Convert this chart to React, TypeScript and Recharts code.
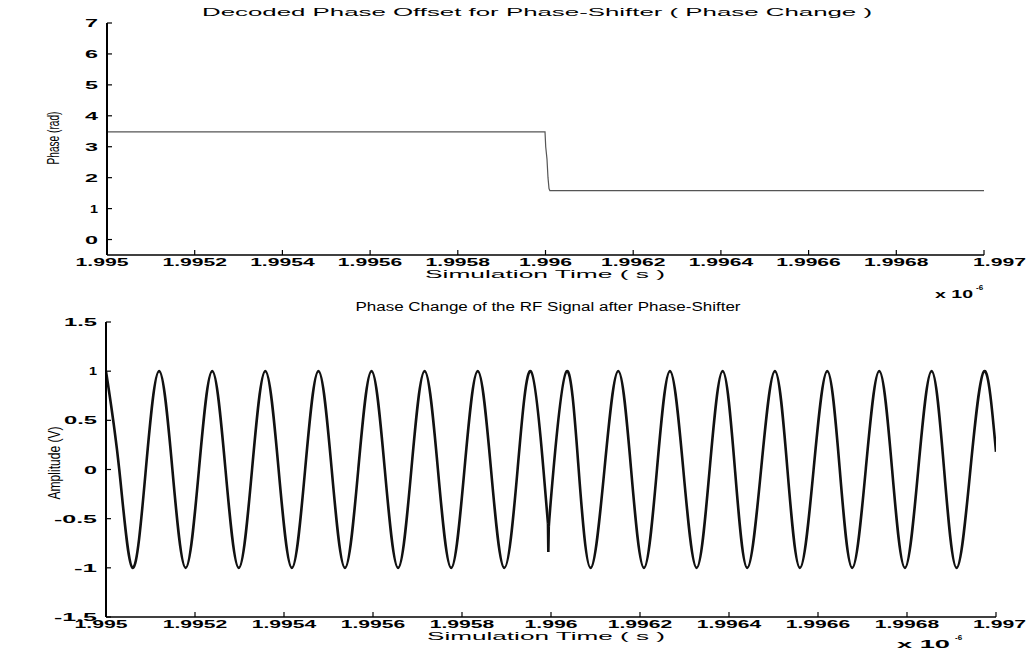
import React from 'react';
import { LineChart, Line, XAxis, YAxis } from 'recharts';

// ---------- data ----------
const timeTicks = [1.995, 1.9952, 1.9954, 1.9956, 1.9958, 1.996, 1.9962, 1.9964, 1.9966, 1.9968, 1.997];
const timeTickLabels = ['1.995', '1.9952', '1.9954', '1.9956', '1.9958', '1.996', '1.9962', '1.9964', '1.9966', '1.9968', '1.997'];
const phaseTicks = [0, 1, 2, 3, 4, 5, 6, 7];
const phaseTickLabels = ['0', '1', '2', '3', '4', '5', '6', '7'];
const ampTicks = [-1.5, -1, -0.5, 0, 0.5, 1, 1.5];
const ampTickLabels = ['-1.5', '-1', '-0.5', '0', '0.5', '1', '1.5'];

// decoded phase (rad) vs time (x 1e-6 s)
const phaseTime = [1.995, 1.9959989, 1.9960005, 1.9960034, 1.9960057, 1.996008, 1.99601, 1.997];
const phaseValue = [3.48, 3.48, 3.0, 2.6, 2.0, 1.65, 1.58, 1.58];

// RF signal before the phase change
const rfTimeBefore = [
  1.995, 1.9950298, 1.9950597, 1.9950895, 1.9951194, 1.9951492, 1.995179, 1.9952089,
  1.9952387, 1.9952685, 1.9952984, 1.9953282, 1.995358, 1.9953879, 1.9954177, 1.9954475,
  1.9954774, 1.9955072, 1.995537, 1.9955669, 1.9955967, 1.9956265, 1.9956564, 1.9956862,
  1.995716, 1.9957459, 1.9957757, 1.9958055, 1.9958354, 1.9958652, 1.995895, 1.9959249,
  1.9959547, 1.995983, 1.9959932,
];
const rfValueBefore = [
  1, 0, -1, 0, 1, 0, -1, 0,
  1, 0, -1, 0, 1, 0, -1, 0,
  1, 0, -1, 0, 1, 0, -1, 0,
  1, 0, -1, 0, 1, 0, -1, 0,
  1, 0, -0.55,
];
// glitch at the switching instant
const rfTimeGlitch = [1.9959932, 1.995994, 1.995995];
const rfValueGlitch = [-0.55, -0.84, -0.58];
// RF signal after the phase change
const rfTimeAfter = [
  1.995995, 1.9960056, 1.9960352, 1.9960622, 1.9960891, 1.9961201, 1.9961511, 1.99618,
  1.9962089, 1.9962381, 1.9962673, 1.9962973, 1.9963273, 1.9963565, 1.9963857, 1.9964134,
  1.996441, 1.9964721, 1.9965032, 1.9965313, 1.9965594, 1.9965901, 1.9966208, 1.9966489,
  1.9966769, 1.9967073, 1.9967376, 1.9967665, 1.9967953, 1.9968253, 1.9968553, 1.9968834,
  1.9969115, 1.9969425, 1.9969735, 1.997,
];
const rfValueAfter = [
  -0.58, 0, 1, 0, -1, 0, 1, 0,
  -1, 0, 1, 0, -1, 0, 1, 0,
  -1, 0, 1, 0, -1, 0, 1, 0,
  -1, 0, 1, 0, -1, 0, 1, 0,
  -1, 0, 1, 0.18,
];

const zip = (ts: number[], vs: number[]) => ts.map((t, i) => ({ t, v: vs[i] }));
const phaseData = zip(phaseTime, phaseValue);
const rfBefore = zip(rfTimeBefore, rfValueBefore);
const rfGlitch = zip(rfTimeGlitch, rfValueGlitch);
const rfAfter = zip(rfTimeAfter, rfValueAfter);

// ---------- styling helpers ----------
const FONT = '"Liberation Sans", Arial, Helvetica, sans-serif';

const findIdx = (arr: number[], v: number) => arr.findIndex((a) => Math.abs(a - v) < 1e-9);

// width of a (wide, scanned-looking) numeric label
const labelWidth = (s: string, digit: number, dot: number, minus: number) =>
  s.split('').reduce((w, c) => w + (c === '.' ? dot : c === '-' ? minus : digit), 0);

const BottomTick = (props: any) => {
  const { x, y, payload } = props;
  const i = findIdx(timeTicks, payload.value);
  const label = i >= 0 ? timeTickLabels[i] : '';
  const w = labelWidth(label, 11.5, 7, 8);
  let cx = x;
  if (i === 0) cx = x - 5;
  if (i === timeTicks.length - 1) cx = Math.min(x + 16, 1026 - w / 2);
  return (
    <g>
      <line x1={x} x2={x} y1={y} y2={y - 5} stroke="#000" strokeWidth={1.2} />
      <text x={cx} y={y + 11} textAnchor="middle" fontSize={10.5} fontWeight="bold"
        textLength={w} lengthAdjust="spacingAndGlyphs" fill="#000" fontFamily={FONT}>{label}</text>
    </g>
  );
};

const TopTick = (props: any) => {
  const { x, y } = props;
  return <line x1={x} x2={x} y1={y} y2={y + 4} stroke="#000" strokeWidth={1.2} />;
};

const makeLeftTick = (ticks: number[], labels: string[]) => (props: any) => {
  const { x, y, payload } = props;
  const i = findIdx(ticks, payload.value);
  const label = i >= 0 ? labels[i] : '';
  const w = label === '1' ? 8 : labelWidth(label, 13, 7, 10);
  return (
    <g>
      <line x1={x} x2={x + 5} y1={y} y2={y} stroke="#000" strokeWidth={1.2} />
      <text x={x - 9} y={y + 4} textAnchor="end" fontSize={11} fontWeight="bold"
        textLength={w} lengthAdjust="spacingAndGlyphs" fill="#000" fontFamily={FONT}>{label}</text>
    </g>
  );
};

const RightTick = (props: any) => {
  const { x, y } = props;
  return <line x1={x} x2={x - 5} y1={y} y2={y} stroke="#000" strokeWidth={1.2} />;
};

const PhaseLeftTick = makeLeftTick(phaseTicks, phaseTickLabels);
const AmpLeftTick = makeLeftTick(ampTicks, ampTickLabels);

const txt = { fontFamily: FONT, fill: '#000' } as const;

export default function App() {
  return (
    <div style={{ position: 'absolute', left: 0, top: 0, width: 1029, height: 662, background: '#fff', overflow: 'hidden' }}>
      {/* top chart */}
      <div style={{ position: 'absolute', left: 0, top: 0 }}>
        <LineChart width={1029} height={300} margin={{ top: 23, right: 45, bottom: 15, left: 67 }}>
          <XAxis dataKey="t" type="number" domain={[1.995, 1.997]} ticks={timeTicks} interval={0}
            allowDataOverflow tickSize={0} tickMargin={0} tickLine={false} height={30}
            axisLine={{ stroke: '#000', strokeWidth: 1.6 }} tick={<BottomTick />} />
          <XAxis xAxisId="top" orientation="top" dataKey="t" type="number" domain={[1.995, 1.997]}
            ticks={timeTicks} interval={0} allowDataOverflow tickSize={0} tickMargin={0} tickLine={false}
            height={0} axisLine={{ stroke: '#444', strokeWidth: 1, strokeDasharray: '3 1' }} tick={<TopTick />} />
          <YAxis type="number" domain={[-0.5, 7]} ticks={phaseTicks} interval={0} allowDataOverflow
            tickSize={0} tickMargin={0} tickLine={false} width={40}
            axisLine={{ stroke: '#000', strokeWidth: 2 }} tick={<PhaseLeftTick />} />
          <YAxis yAxisId="right" orientation="right" type="number" domain={[-0.5, 7]} ticks={phaseTicks}
            interval={0} allowDataOverflow tickSize={0} tickMargin={0} tickLine={false} width={0}
            axisLine={{ stroke: '#000', strokeWidth: 1.6 }} tick={<RightTick />} />
          <Line data={phaseData} dataKey="v" type="linear" stroke="#555" strokeWidth={1.2}
            dot={false} isAnimationActive={false} />
        </LineChart>
      </div>

      {/* bottom chart */}
      <div style={{ position: 'absolute', left: 0, top: 300 }}>
        <LineChart width={1029} height={362} margin={{ top: 22, right: 33, bottom: 15, left: 66 }}>
          <XAxis dataKey="t" type="number" domain={[1.995, 1.997]} ticks={timeTicks} interval={0}
            allowDataOverflow tickSize={0} tickMargin={0} tickLine={false} height={30}
            axisLine={{ stroke: '#000', strokeWidth: 1.6 }} tick={<BottomTick />} />
          <XAxis xAxisId="top" orientation="top" dataKey="t" type="number" domain={[1.995, 1.997]}
            ticks={timeTicks} interval={0} allowDataOverflow tickSize={0} tickMargin={0} tickLine={false}
            height={0} axisLine={{ stroke: '#444', strokeWidth: 1, strokeDasharray: '3 1' }} tick={<TopTick />} />
          <YAxis type="number" domain={[-1.5, 1.5]} ticks={ampTicks} interval={0} allowDataOverflow
            tickSize={0} tickMargin={0} tickLine={false} width={40}
            axisLine={{ stroke: '#000', strokeWidth: 2 }} tick={<AmpLeftTick />} />
          <YAxis yAxisId="right" orientation="right" type="number" domain={[-1.5, 1.5]} ticks={ampTicks}
            interval={0} allowDataOverflow tickSize={0} tickMargin={0} tickLine={false} width={0}
            axisLine={{ stroke: '#000', strokeWidth: 1.6 }} tick={<RightTick />} />
          <Line data={rfBefore} dataKey="v" type="natural" stroke="#111" strokeWidth={2.6}
            dot={false} isAnimationActive={false} />
          <Line data={rfGlitch} dataKey="v" type="linear" stroke="#111" strokeWidth={2.6}
            dot={false} isAnimationActive={false} />
          <Line data={rfAfter} dataKey="v" type="natural" stroke="#111" strokeWidth={2.6}
            dot={false} isAnimationActive={false} />
        </LineChart>
      </div>

      {/* titles and labels */}
      <svg width={1029} height={662} style={{ position: 'absolute', left: 0, top: 0, pointerEvents: 'none' }}>
        <text x={537} y={16} textAnchor="middle" fontSize={10.5} textLength={670} lengthAdjust="spacingAndGlyphs" {...txt}>
          Decoded Phase Offset for Phase-Shifter ( Phase Change )
        </text>
        <text x={545} y={278} textAnchor="middle" fontSize={11} textLength={240} lengthAdjust="spacingAndGlyphs" {...txt}>
          Simulation Time ( s )
        </text>
        <text transform="translate(59,138) rotate(-90)" textAnchor="middle" fontSize={17} textLength={53}
          lengthAdjust="spacingAndGlyphs" {...txt}>Phase (rad)</text>
        <text x={935} y={298} fontSize={11} fontWeight="bold" textLength={38} lengthAdjust="spacingAndGlyphs" {...txt}>x 10</text>
        <text x={976} y={290} fontSize={8} fontWeight="bold" {...txt}>-6</text>

        <text x={548} y={311} textAnchor="middle" fontSize={12} textLength={385} lengthAdjust="spacingAndGlyphs" {...txt}>
          Phase Change of the RF Signal after Phase-Shifter
        </text>
        <text x={546} y={640} textAnchor="middle" fontSize={11} textLength={238} lengthAdjust="spacingAndGlyphs" {...txt}>
          Simulation Time ( s )
        </text>
        <text transform="translate(60,463) rotate(-90)" textAnchor="middle" fontSize={17} textLength={73}
          lengthAdjust="spacingAndGlyphs" {...txt}>Amplitude (V)</text>
        <text x={897} y={648} fontSize={11} fontWeight="bold" textLength={53} lengthAdjust="spacingAndGlyphs" {...txt}>x 10</text>
        <text x={955} y={640} fontSize={8} fontWeight="bold" {...txt}>-6</text>
      </svg>
    </div>
  );
}
